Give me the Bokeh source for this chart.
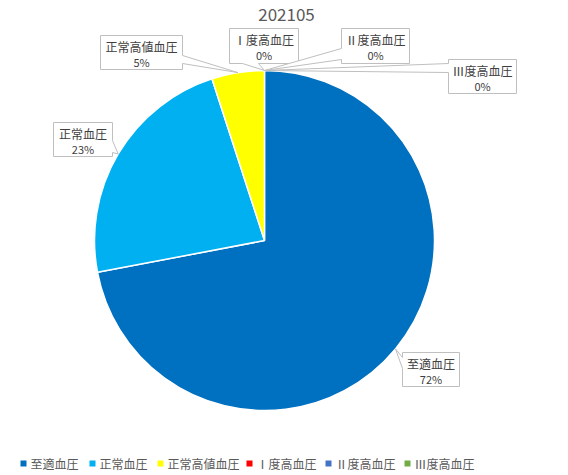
import math
from bokeh.plotting import figure
from bokeh.models import Range1d, ColumnDataSource
from bokeh.core.properties import value
from bokeh.embed import file_html
from bokeh.resources import INLINE

# ---- data ----
title = "202105"
categories = ["至適血圧", "正常血圧", "正常高値血圧", "Ⅰ度高血圧", "Ⅱ度高血圧", "Ⅲ度高血圧"]
values = [72, 23, 5, 0, 0, 0]
colors = ["#0070C0", "#00B0F0", "#FFFF00", "#FF0000", "#4472C4", "#70AD47"]

# ---- layout (screen px) ----
W, H = 568, 475
def X(sx): return sx
def Y(sy): return H - sy

CX, CY, R = 264, 240, 170
FONT = value("Noto Sans CJK JP")

# callout boxes: (x0, y0, x1, y1), pointer side, base a, base b
boxes = [
    ((402, 352, 459, 386), "left", 357, 368),
    ((53, 122, 112, 156), "right", 140, 152),
    ((100, 35, 182, 69), "right", 55, 63),
    ((229, 28, 298, 63), "bottom", 242, 258),
    ((341, 28, 409, 63), "left", 48, 59),
    ((448, 59, 516, 93), "left", 63, 72),
]
legend_x = [23, 92, 160, 249, 328, 407]
legend_y = 463

p = figure(width=W, height=H, x_range=Range1d(0, W), y_range=Range1d(0, H),
           x_axis_type=None, y_axis_type=None, output_backend="svg",
           toolbar_location=None, min_border=0)
p.grid.visible = False
p.outline_line_color = None
p.background_fill_color = "white"
p.border_fill_color = "white"

total = float(sum(values))
fr = [v / total for v in values]
cum = [0.0]
for f in fr:
    cum.append(cum[-1] + f)

# wedges
ws = dict(start=[], end=[], color=[])
for i, f in enumerate(fr):
    if f <= 0:
        continue
    ws["start"].append(math.pi / 2 - cum[i] * 2 * math.pi)
    ws["end"].append(math.pi / 2 - cum[i + 1] * 2 * math.pi)
    ws["color"].append(colors[i])
p.wedge(x=X(CX), y=Y(CY), radius=R, start_angle="start", end_angle="end",
        direction="clock", fill_color="color", line_color="white", line_width=1.5,
        source=ColumnDataSource(ws))

# callouts
px, py, tx, ty1, ty2, t1, t2 = [], [], [], [], [], [], []
for i, (box, side, a, b) in enumerate(boxes):
    x0, y0, x1, y1 = box
    mid = (cum[i] + cum[i + 1]) / 2 * 2 * math.pi
    tipx = CX + R * math.sin(mid)
    tipy = CY - R * math.cos(mid)
    tip = (tipx, tipy)
    pts = [(x0, y0)]
    if side == "top":
        pts += [(a, y0), tip, (b, y0)]
    pts.append((x1, y0))
    if side == "right":
        pts += [(x1, a), tip, (x1, b)]
    pts.append((x1, y1))
    if side == "bottom":
        pts += [(b, y1), tip, (a, y1)]
    pts.append((x0, y1))
    if side == "left":
        pts += [(x0, b), tip, (x0, a)]
    px.append([X(q[0]) for q in pts])
    py.append([Y(q[1]) for q in pts])
    tx.append(X((x0 + x1) / 2))
    ty1.append(Y(y0 + 11))
    ty2.append(Y(y0 + 26))
    t1.append(categories[i])
    t2.append(f"{round(fr[i] * 100)}%")

p.patches(xs=px, ys=py, fill_color="white", line_color="#BFBFBF", line_width=1)
p.text(x=tx, y=ty1, text=t1, text_font=FONT, text_font_size="12px",
       text_align="center", text_baseline="middle", text_color="#404040")
p.text(x=tx, y=ty2, text=t2, text_font=FONT, text_font_size="11px",
       text_align="center", text_baseline="middle", text_color="#404040")

# title
p.text(x=[X(286)], y=[Y(14)], text=[title], text_font=FONT, text_font_size="17px",
       text_align="center", text_baseline="middle", text_color="#595959")

# legend
p.scatter(x=[X(v) for v in legend_x], y=[Y(legend_y)] * len(legend_x), marker="square",
          size=6, fill_color=colors, line_color=None)
p.text(x=[X(v + 7) for v in legend_x], y=[Y(legend_y)] * len(legend_x), text=categories,
       text_font=FONT, text_font_size="12px", text_align="left", text_baseline="middle",
       text_color="#595959")

open("out.html", "w").write(file_html(p, INLINE))
